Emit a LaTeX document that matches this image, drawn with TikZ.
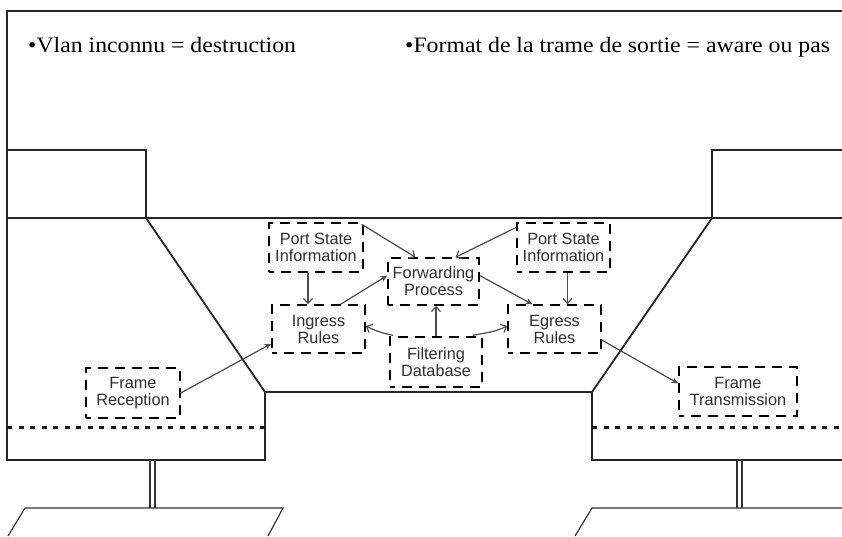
\documentclass[tikz,border=0pt]{standalone}
\usepackage{fontspec}
\setmainfont{Liberation Serif}
\newfontfamily\boxfont{Liberation Sans}
\usetikzlibrary{arrows.meta,calc}

\begin{document}
\begin{tikzpicture}[x=1pt,y=-1pt,
  frame/.style={line width=1.8pt, black!85, line join=miter},
  thinline/.style={line width=1.2pt, black!80},
  dotline/.style={line width=3pt, black!90, dash pattern=on 5pt off 6.5pt},
  block/.style={draw, line width=1.4pt, dash pattern=on 10pt off 7pt, dash phase=5pt,
    minimum width=#1, inner sep=0pt, align=center,
    font=\boxfont\fontsize{16.3}{17}\selectfont, text=black!82},
  link/.style={line width=1.2pt, black!70, -{Stealth[length=7pt,width=6pt]}},
  openlink/.style={line width=1.2pt, black!70, -{Straight Barb[length=5pt,width=9pt]}},
  remark/.style={anchor=base west, inner sep=0pt,
    font=\fontsize{22}{26}\selectfont, xscale=1.08}
]
\useasboundingbox (0,0) rectangle (842,536);

% enclosing frame and the two bridge ports
\draw[frame] (842,11) -- (7,11) -- (7,460) -- (265,460) -- (265,392)
  -- (592,392) -- (592,460) -- (842,460);
\draw[frame] (7,150) -- (146,150) -- (146,218);
\draw[frame] (7,218) -- (842,218);
\draw[frame] (146,218) -- (265,392);
\draw[frame] (712,218) -- (592,392);
\draw[frame] (712,218) -- (712,150) -- (842,150);

% layer separators
\draw[dotline] (7,427) -- (265,427);
\draw[dotline] (592,427) -- (842,427);

% attachment to the LANs
\draw[thinline] (150,460) -- (150,508);
\draw[thinline] (155,460) -- (155,508);
\draw[thinline] (737,460) -- (737,508);
\draw[thinline] (742,460) -- (742,508);
\draw[thinline] (8,536) -- (25,508) -- (283,508) -- (268,536);
\draw[thinline] (575,536) -- (592,508) -- (860,508) -- (843,536);

% remarks
\node[remark] (rmA) at (28,52) {•Vlan inconnu = destruction};
\node[remark] (rmB) at (405,52) {•Format de la trame de sortie = aware ou pas};

% relay entities
\node[block=94pt, minimum height=49pt] (psiL) at (316,247.5) {Port State\\Information};
\node[block=91pt, minimum height=47pt] (fp) at (433.5,281.5) {Forwarding\\Process};
\node[block=93pt, minimum height=49pt] (psiR) at (563.5,247.5) {Port State\\Information};
\node[block=93pt, minimum height=48pt] (ing) at (318.5,329) {Ingress\\Rules};
\node[block=93pt, minimum height=48pt] (egr) at (554.5,329) {Egress\\Rules};
\node[block=92pt, minimum height=50pt] (fdb) at (436,362) {Filtering\\Database};
\node[block=94pt, minimum height=50pt] (frx) at (133,393) {Frame\\Reception};
\node[block=118pt, minimum height=49pt] (ftx) at (738,391.5) {Frame\\Transmission};

% relations
\draw[openlink] ([xshift=-2pt,yshift=-2pt]psiL.north east) -- ([xshift=-18pt]fp.north);
\draw[openlink] ([yshift=-5pt]psiR.north west) -- ([xshift=22pt]fp.north);
\draw[openlink] ([xshift=-8pt]psiL.south) -- ([xshift=-8pt]psiL.south |- ing.north);
\draw[openlink] ([xshift=4pt]psiR.south) -- ([xshift=4pt]psiR.south |- egr.north);
\draw[link] ([xshift=22pt]ing.north) -- ([yshift=6pt]fp.west);
\draw[link] ([yshift=6pt]fp.east) -- ([xshift=-22pt]egr.north);
\draw[openlink] (fdb.north) -- (fdb.north |- fp.south);
\draw[openlink] ([xshift=4pt,yshift=1pt]fdb.north west) to[out=170,in=-25] ([yshift=3pt]ing.east);
\draw[openlink] ([xshift=-10pt,yshift=1pt]fdb.north east) to[out=10,in=205] ([yshift=3pt]egr.west);
\draw[link] (frx.east) -- ([yshift=10pt]ing.south west);
\draw[link] ([yshift=-11pt]egr.east) -- ([yshift=8pt]ftx.west);
\end{tikzpicture}
\end{document}
